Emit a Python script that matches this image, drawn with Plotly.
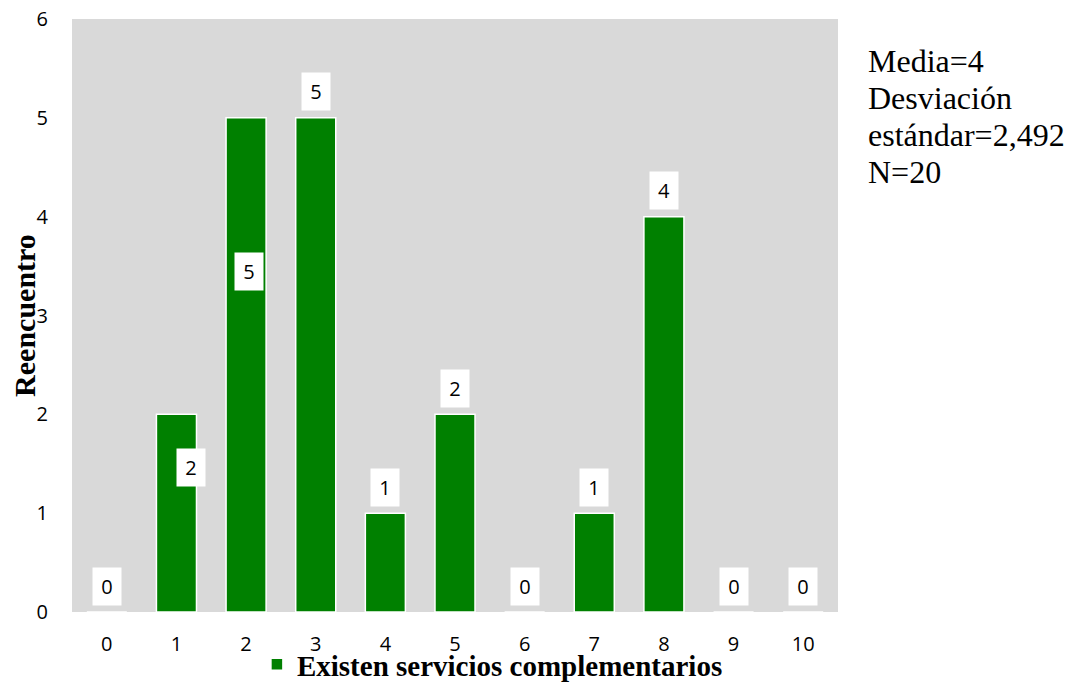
import plotly.graph_objects as go

categories = [0, 1, 2, 3, 4, 5, 6, 7, 8, 9, 10]
counts = [0, 2, 5, 5, 1, 2, 0, 1, 4, 0, 0]
series_name = "Existen servicios complementarios"
y_ticks = [0, 1, 2, 3, 4, 5, 6]
stats_lines = ["Media=4", "Desviación", "estándar=2,492", "N=20"]

# label placement inside bars: (x offset in categories, y as fraction of value); others sit above the bar
label_place = {1: (0.21, 0.73), 2: (0.04, 0.69)}

SANS = "Open Sans, Liberation Sans, sans-serif"
SERIF = "Liberation Serif, Times New Roman, serif"

fig = go.Figure()
fig.add_trace(go.Bar(
    x=categories, y=counts, name="<b>" + series_name + "</b>",
    marker=dict(color="#008000", line=dict(color="white", width=1.5)),
    showlegend=True,
))

for c, v in zip(categories, counts):
    if c in label_place:
        dx, fy = label_place[c]
        x, y, ys = c + dx, v * fy, 0
    else:
        x, y, ys = c, v, 26
    fig.add_annotation(
        x=x, y=y, yshift=ys, text=str(v), showarrow=False,
        bgcolor="white", width=26, height=35, borderpad=1,
        font=dict(family=SANS, size=20, color="black"),
        xref="x", yref="y",
    )

for i, line in enumerate(stats_lines):
    fig.add_annotation(
        x=1, xref="paper", xanchor="left", xshift=28,
        y=1, yref="paper", yanchor="top", yshift=-(22 + 37 * i),
        text=line, showarrow=False, align="left",
        font=dict(family=SERIF, size=32, color="black"),
    )

fig.update_layout(
    width=1075, height=684,
    paper_bgcolor="white", plot_bgcolor="#d9d9d9",
    margin=dict(l=64, r=245, t=11, b=80, autoexpand=False),
    bargap=0.425,
    font=dict(family=SANS, size=20, color="black"),
    xaxis=dict(tickmode="array", tickvals=categories, ticktext=[str(c) for c in categories],
               range=[-0.5, 10.5], showgrid=False, zeroline=False, ticks="",
               ticklabelstandoff=18, automargin=False, ticklabeloverflow="allow",
               tickfont=dict(family=SANS, size=20)),
    yaxis=dict(tickmode="array", tickvals=y_ticks, range=[0, 6], showgrid=False,
               zeroline=False, ticks="", ticklabelstandoff=23, automargin=False,
               ticklabeloverflow="allow",
               tickfont=dict(family=SANS, size=20),
               title=dict(text="<b>Reencuentro</b>", standoff=0,
                          font=dict(family=SERIF, size=30))),
    legend=dict(orientation="h", x=0.2414, xanchor="left", y=-0.1315, yanchor="bottom",
                font=dict(family=SERIF, size=29),
                itemwidth=30, bgcolor="rgba(0,0,0,0)"),
)

fig.write_html("out.html")
